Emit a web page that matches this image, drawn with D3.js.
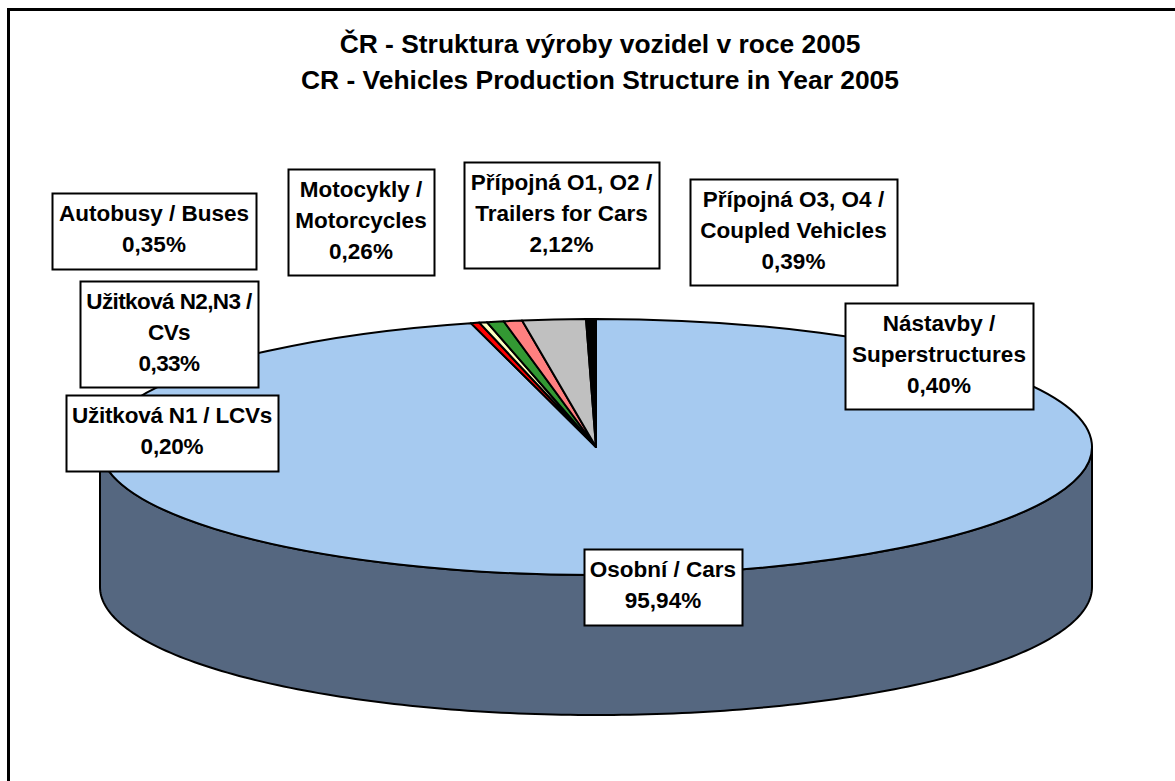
<!DOCTYPE html>
<html><head><meta charset="utf-8">
<script src="https://cdn.jsdelivr.net/npm/d3@7"></script>
<style>html,body{margin:0;padding:0;background:#fff}svg{display:block}text{font-family:"Liberation Sans",Arial,sans-serif;font-weight:bold;fill:#000}</style>
</head><body><div id="c"></div>
<script>
const titleLines = ["ČR - Struktura výroby vozidel v roce 2005","CR - Vehicles Production Structure in Year 2005"];
const sliceNames = ["Osobní / Cars","Užitková N1 / LCVs + Užitková N2,N3","Autobusy","Motocykly","Přípojná O1, O2","Přípojná O3, O4","Nástavby"];
const sliceShares = [95.94,0.28,0.25,0.55,0.60,2.06,0.32];
const sliceColors = ["#a6caf0","#ff0000","#ffffc0","#339933","#ff8080","#c0c0c0","#000000"];
const labelLines = [
 ["Osobní / Cars","95,94%"],
 ["Užitková N1 / LCVs","0,20%"],
 ["Užitková N2,N3 /","CVs","0,33%"],
 ["Autobusy / Buses","0,35%"],
 ["Motocykly /","Motorcycles","0,26%"],
 ["Přípojná O1, O2 /","Trailers for Cars","2,12%"],
 ["Přípojná O3, O4 /","Coupled Vehicles","0,39%"],
 ["Nástavby /","Superstructures","0,40%"]];
const labelBoxes = [[584,549,158,76],[66,395,212,76],[80,281,178,106],[52,193,204,76],[288,169,146,106],[464,162,195,106],[690,179,207,106],[845,303,188,106]];
const labelSpacing = [0,-0.2,-0.6,0,0,0,0,0];
const W=1175,H=781,cx=596,cy=447,rx=496,ry=128,depth=140;
const svg=d3.select("#c").append("svg").attr("width",W).attr("height",H);
svg.append("path").attr("d",d3.line()([[8.5,H],[8.5,9.5],[W,9.5]])).attr("fill","none").attr("stroke","#000").attr("stroke-width",3);
svg.selectAll(".t").data(titleLines).join("text").attr("class","t").attr("x",600).attr("y",(d,i)=>53+i*36).attr("text-anchor","middle").attr("font-size",26.4).text(d=>d);
const px=a=>cx+rx*Math.sin(a), py=a=>cy-ry*Math.cos(a);
const wallAngles=d3.range(90,270.5,1).map(d=>d*Math.PI/180);
const wallTop=wallAngles.map(a=>[px(a),py(a)]), wallBottom=wallAngles.map(a=>[px(a),py(a)+depth]).reverse();
svg.append("path").attr("d",d3.line()(wallTop.concat(wallBottom))+"Z").attr("fill","#556780").attr("stroke","#000").attr("stroke-width",2).attr("stroke-linejoin","round");
const pie=d3.pie().sort(null).value(d=>d)(sliceShares);
const arc=d3.arc().innerRadius(0).outerRadius(rx);
svg.append("g").attr("transform",`translate(${cx},${cy}) scale(1,${ry/rx})`).selectAll("path").data(pie).join("path")
 .attr("d",arc).attr("fill",(d,i)=>sliceColors[i]).attr("stroke","#000").attr("stroke-width",2).attr("vector-effect","non-scaling-stroke").attr("stroke-linejoin","round");
const g=svg.selectAll(".l").data(labelLines).join("g").attr("class","l").attr("transform",(d,i)=>`translate(${labelBoxes[i][0]},${labelBoxes[i][1]})`);
g.append("rect").attr("x",.5).attr("y",.5).attr("width",(d,i)=>labelBoxes[i][2]).attr("height",(d,i)=>labelBoxes[i][3]).attr("fill","#fff").attr("stroke","#000").attr("stroke-width",2);
g.each(function(d,i){const b=labelBoxes[i];d3.select(this).selectAll("text").data(d).join("text").attr("x",b[2]/2).attr("y",(t,j)=>28+j*31).attr("text-anchor","middle").attr("font-size",22.5).attr("letter-spacing",labelSpacing[i]).text(t=>t);});
</script></body></html>
